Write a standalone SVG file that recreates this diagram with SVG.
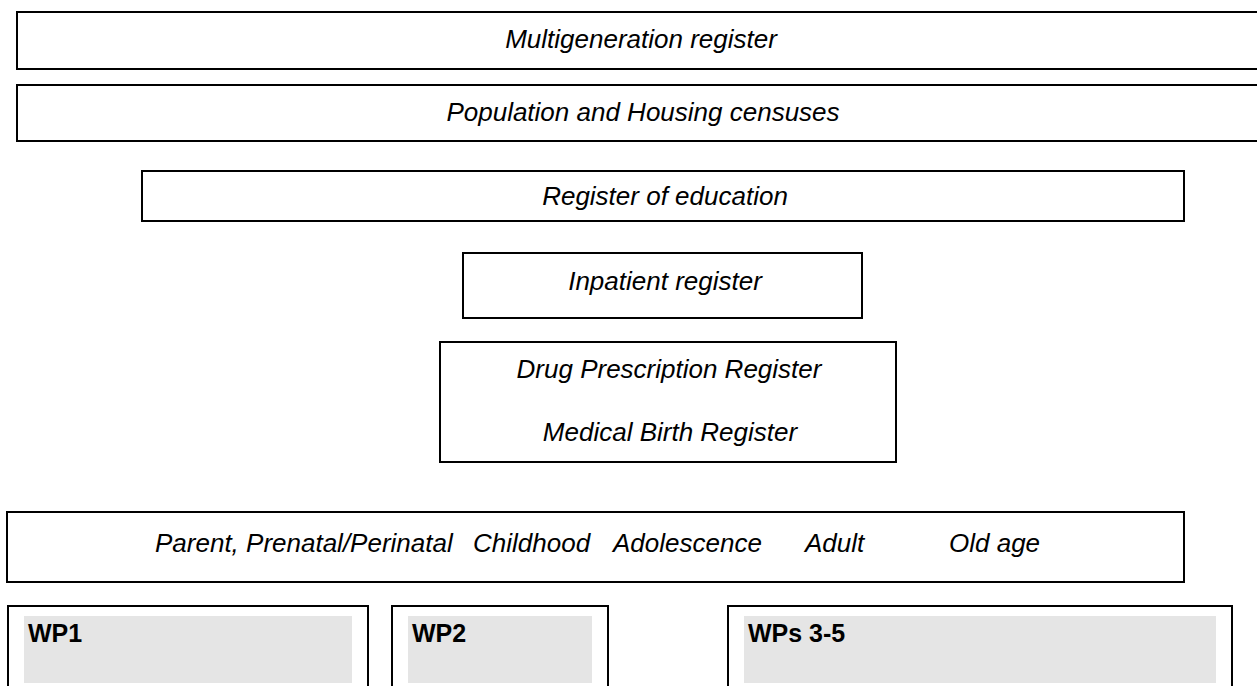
<svg xmlns="http://www.w3.org/2000/svg" width="1257" height="686" viewBox="0 0 1257 686">
<style>
.box{fill:#fff;stroke:#000;stroke-width:2}
.gray{fill:#e5e5e5;stroke:none}
.it{font-family:"Liberation Sans",Arial,sans-serif;font-style:italic;font-size:26px;fill:#000}
.bd{font-family:"Liberation Sans",Arial,sans-serif;font-weight:bold;font-size:25px;fill:#000}
</style>
<rect width="1257" height="686" fill="#fff"/>
<g id="multigeneration">
<rect class="box" x="17" y="12" width="1260" height="57"/>
<text class="it" x="641" y="48" text-anchor="middle">Multigeneration register</text>
</g>
<g id="censuses">
<rect class="box" x="17" y="85" width="1260" height="56"/>
<text class="it" x="643" y="121" text-anchor="middle">Population and Housing censuses</text>
</g>
<g id="education">
<rect class="box" x="142" y="171" width="1042" height="50"/>
<text class="it" x="665" y="205" text-anchor="middle">Register of education</text>
</g>
<g id="inpatient">
<rect class="box" x="463" y="253" width="399" height="65"/>
<text class="it" x="665" y="290" text-anchor="middle">Inpatient register</text>
</g>
<g id="drug-birth">
<rect class="box" x="440" y="342" width="456" height="120"/>
<text class="it" x="669" y="378" text-anchor="middle">Drug Prescription Register</text>
<text class="it" x="670" y="441" text-anchor="middle">Medical Birth Register</text>
</g>
<g id="stages">
<rect class="box" x="7" y="512" width="1177" height="70"/>
<text class="it" y="552"><tspan x="155">Parent, Prenatal/Perinatal</tspan><tspan x="473">Childhood</tspan><tspan x="613">Adolescence</tspan><tspan x="805">Adult</tspan><tspan x="949">Old age</tspan></text>
</g>
<g id="wp1">
<rect class="box" x="8" y="606" width="360" height="100"/>
<rect class="gray" x="24" y="616" width="328" height="67"/>
<text class="bd" x="28" y="642">WP1</text>
</g>
<g id="wp2">
<rect class="box" x="392" y="606" width="216" height="100"/>
<rect class="gray" x="408" y="616" width="184" height="67"/>
<text class="bd" x="412" y="642">WP2</text>
</g>
<g id="wp3-5">
<rect class="box" x="728" y="606" width="504" height="100"/>
<rect class="gray" x="744" y="616" width="472" height="67"/>
<text class="bd" x="748" y="642">WPs 3-5</text>
</g>
<g id="connectors"></g>
</svg>
